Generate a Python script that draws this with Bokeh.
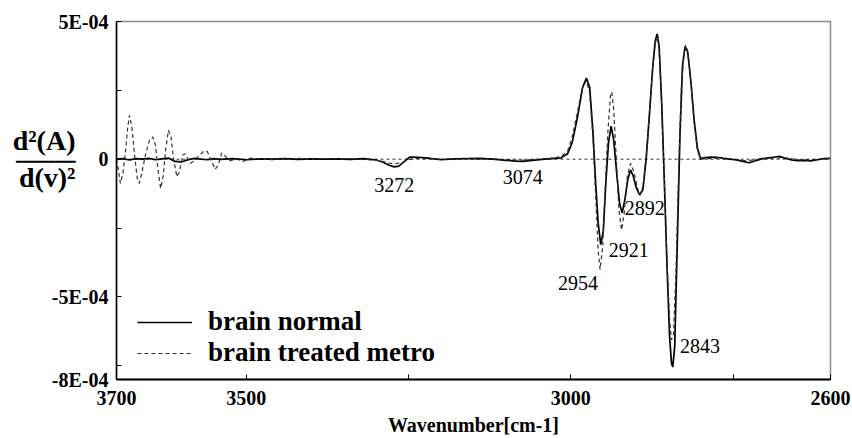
import numpy as np
from bokeh.plotting import figure
from bokeh.models import (Range1d, FixedTicker, Span, Label, Legend, LegendItem,
                          ColumnDataSource, LinearAxis)
from bokeh.embed import file_html
from bokeh.resources import INLINE

# ---------------- data (second derivative, units of 1E-04) ----------------
wn_normal = [3700, 3690, 3680, 3670, 3660, 3650, 3640, 3630, 3620, 3610, 3600, 3590,
             3580, 3570, 3560, 3550, 3540, 3520, 3500, 3480, 3460, 3440, 3420, 3400,
             3380, 3360, 3340, 3320, 3300, 3290, 3280, 3272, 3265, 3255, 3248, 3235,
             3220, 3200, 3180, 3160, 3140, 3120, 3100, 3085, 3074, 3060, 3040, 3025,
             3015, 3005, 2998, 2990, 2982, 2976, 2971, 2966, 2962, 2958, 2954, 2950,
             2946, 2942, 2938, 2934, 2929, 2925, 2921, 2917, 2912, 2908, 2904, 2899,
             2894, 2889, 2884, 2879, 2874, 2870, 2867, 2864, 2860, 2856, 2852, 2848,
             2845, 2843, 2840, 2836, 2832, 2828, 2824, 2820, 2815, 2810, 2805, 2800,
             2795, 2785, 2775, 2765, 2755, 2745, 2735, 2725, 2715, 2705, 2695, 2685,
             2678, 2670, 2660, 2650, 2640, 2630, 2620, 2610, 2600]
d2_normal = [0.00, 0.02, -0.03, 0.02, 0.00, 0.03, -0.02, 0.01, 0.04, -0.08, -0.10, -0.02,
             0.03, 0.00, -0.02, 0.02, -0.01, 0.02, -0.02, 0.01, 0.00, 0.02, -0.01, 0.01,
             0.00, 0.01, -0.01, 0.02, -0.03, -0.10, -0.22, -0.28, -0.25, -0.05, 0.08, 0.07,
             0.04, -0.02, 0.01, 0.02, 0.03, 0.00, -0.04, -0.07, -0.08, -0.04, 0.00, 0.03,
             0.05, 0.20, 0.60, 1.50, 2.60, 2.95, 2.60, 1.00, -0.80, -2.30, -3.10, -2.60,
             -0.80, 0.60, 1.20, 0.70, -0.60, -1.60, -1.95, -1.50, -0.70, -0.40, -0.60, -1.05,
             -1.30, -1.10, 0.00, 1.60, 3.30, 4.30, 4.55, 4.10, 2.00, -0.80, -3.80, -6.40,
             -7.40, -7.55, -6.80, -3.00, 0.80, 3.40, 4.10, 3.90, 2.80, 1.40, 0.40, 0.02,
             0.05, 0.08, 0.07, 0.03, 0.00, -0.03, -0.08, -0.13, -0.05, 0.02, 0.05, 0.08,
             0.10, 0.04, -0.03, -0.05, -0.04, -0.06, -0.02, 0.02, 0.03]

wn_treated = [3700, 3697, 3694, 3690, 3686, 3683, 3680, 3676, 3672, 3668, 3665, 3661,
              3655, 3649, 3644, 3640, 3636, 3632, 3628, 3624, 3620, 3616, 3612, 3607,
              3603, 3598, 3594, 3590, 3586, 3580, 3572, 3565, 3560, 3555, 3548, 3543,
              3538, 3532, 3525, 3515, 3505, 3495, 3480, 3460, 3440, 3420, 3400, 3380,
              3360, 3340, 3320, 3300, 3290, 3280, 3270, 3260, 3250, 3240, 3220, 3200,
              3180, 3160, 3140, 3120, 3100, 3080, 3060, 3040, 3025, 3015, 3005, 2998,
              2990, 2982, 2976, 2971, 2966, 2962, 2958, 2955, 2951, 2947, 2943, 2939,
              2937, 2934, 2930, 2926, 2922, 2918, 2913, 2908, 2903, 2898, 2894, 2889,
              2884, 2879, 2874, 2870, 2867, 2864, 2860, 2856, 2852, 2848, 2845, 2842,
              2838, 2834, 2830, 2826, 2823, 2820, 2815, 2810, 2805, 2800, 2790, 2770,
              2750, 2730, 2710, 2690, 2670, 2650, 2630, 2610, 2600]
d2_treated = [0.00, -0.40, -0.88, -0.50, 0.30, 1.10, 1.59, 1.10, 0.10, -0.70, -0.88, -0.50,
              0.20, 0.70, 0.81, 0.50, -0.40, -1.06, -0.60, 0.40, 1.05, 0.80, 0.00, -0.64,
              -0.45, 0.15, 0.20, 0.00, -0.15, -0.05, 0.15, 0.30, 0.28, 0.00, -0.37, -0.20,
              0.23, 0.10, -0.05, 0.00, -0.08, 0.03, 0.02, -0.02, 0.01, 0.03, -0.01, 0.02,
              0.00, 0.02, -0.01, -0.03, -0.08, -0.14, -0.16, -0.12, -0.02, 0.03, 0.02, 0.00,
              0.01, 0.02, 0.01, 0.00, -0.02, -0.04, -0.02, 0.01, 0.05, 0.10, 0.30, 0.80,
              1.70, 2.60, 2.85, 2.40, 0.80, -1.20, -3.30, -4.00, -3.20, -1.00, 1.00, 2.30,
              2.44, 1.80, 0.00, -1.80, -2.57, -2.00, -0.60, -0.15, -0.45, -1.00, -1.30, -1.00,
              0.10, 1.70, 3.30, 4.20, 4.45, 4.00, 1.90, -0.80, -3.60, -5.80, -6.56, -6.40,
              -4.00, -0.50, 2.50, 3.80, 4.15, 3.90, 2.80, 1.30, 0.30, 0.00, 0.02, 0.04,
              0.00, -0.06, 0.00, 0.04, 0.05, -0.02, -0.03, 0.01, 0.02]

series_names = ["brain normal", "brain treated metro"]
x_ticks = [3700, 3500, 3250, 3000, 2750, 2600]
x_tick_labels = ["3700", "3500", "", "3000", "", "2600"]
y_ticks = [5e-4, 2.5e-4, 0.0, -2.5e-4, -5e-4, -7.5e-4, -8e-4]
y_tick_labels = ["5E-04", "", "0", "", "-5E-04", "", "-8E-04"]
# y-axis title written as a fraction: numerator, bar, denominator
y_title_parts = ["d\u00b2(A)", "\u2500\u2500\u2500", "d(v)\u00b2"]
y_title_pos = [0.68e-4, -0.05e-4, -0.67e-4]
peak_texts = ["3272", "3074", "2954", "2921", "2892", "2843"]
peak_label_x = [3272, 3074, 2989, 2911, 2886, 2801]
peak_label_y = [-0.94e-4, -0.65e-4, -4.49e-4, -3.3e-4, -1.78e-4, -6.78e-4]

SCALE = 1e-4
src_n = ColumnDataSource(dict(x=wn_normal, y=np.array(d2_normal) * SCALE))
src_t = ColumnDataSource(dict(x=wn_treated, y=np.array(d2_treated) * SCALE))

# ---------------- figure ----------------
W, H = 852, 438
p = figure(width=W, height=H, output_backend="svg", toolbar_location=None,
           x_range=Range1d(3700, 2600), y_range=Range1d(-8e-4, 5e-4),
           min_border_left=116, min_border_right=22, min_border_top=21,
           min_border_bottom=59)
p.grid.visible = False
p.background_fill_color = "white"
p.border_fill_color = "white"
p.outline_line_color = "#8c8c8c"
p.outline_line_width = 1.5

SERIF = "Liberation Serif"
xax = p.xaxis[0]
yax = p.yaxis[0]

for ax in (xax, yax):
    ax.major_tick_in = 5
    ax.major_tick_out = 0
    ax.minor_tick_line_color = None
    ax.axis_line_color = "black"
    ax.major_tick_line_color = "black"
    ax.major_label_text_font = SERIF
    ax.major_label_text_font_style = "bold"
    ax.major_label_text_font_size = "20px"
    ax.major_label_text_color = "black"

xax.ticker = FixedTicker(ticks=x_ticks)
xax.major_label_overrides = {t: l for t, l in zip(x_ticks, x_tick_labels)}
xax.axis_line_width = 2
xax.major_label_standoff = 11
xax.axis_label = "Wavenumber[cm-1]"
xax.axis_label_text_font = SERIF
xax.axis_label_text_font_style = "bold"
xax.axis_label_text_font_size = "20px"
xax.axis_label_text_color = "black"
xax.axis_label_standoff = 6

yax.ticker = FixedTicker(ticks=y_ticks)
yax.major_label_overrides = {t: l for t, l in zip(y_ticks, y_tick_labels)}
yax.axis_line_width = 1.5
yax.major_label_standoff = 8

# extra left axis carrying the fraction-style y title (horizontal text)
title_ax = LinearAxis(ticker=FixedTicker(ticks=y_title_pos),
                      major_label_overrides={t: l for t, l in zip(y_title_pos, y_title_parts)},
                      axis_line_color=None, major_tick_line_color=None,
                      minor_tick_line_color=None, major_tick_in=0, major_tick_out=0,
                      major_label_standoff=-27,
                      major_label_text_font=SERIF, major_label_text_font_style="bold",
                      major_label_text_font_size="28px", major_label_text_color="black")
p.add_layout(title_ax, "left")

# zero reference line
p.add_layout(Span(location=0, dimension="width", line_color="black",
                  line_width=0.8, line_dash="3 3"))

r_n = p.line("x", "y", source=src_n, line_color="black", line_width=1.7)
r_t = p.line("x", "y", source=src_t, line_color="#333333", line_width=1.2,
             line_dash="4 3")

legend = Legend(items=[LegendItem(label=series_names[0], renderers=[r_n]),
                       LegendItem(label=series_names[1], renderers=[r_t])],
                location=(21, 11), padding=0, margin=0, spacing=0,
                glyph_width=55, glyph_height=28, label_height=28,
                label_standoff=16, background_fill_alpha=0,
                border_line_color=None,
                label_text_font=SERIF, label_text_font_style="bold",
                label_text_font_size="27px", label_text_color="black")
p.add_layout(legend)

for t, x, y in zip(peak_texts, peak_label_x, peak_label_y):
    p.add_layout(Label(x=x, y=y, text=t, text_font=SERIF, text_font_size="20px",
                       text_align="center", text_baseline="middle",
                       text_color="black"))

open("out.html", "w").write(file_html(p, INLINE))
